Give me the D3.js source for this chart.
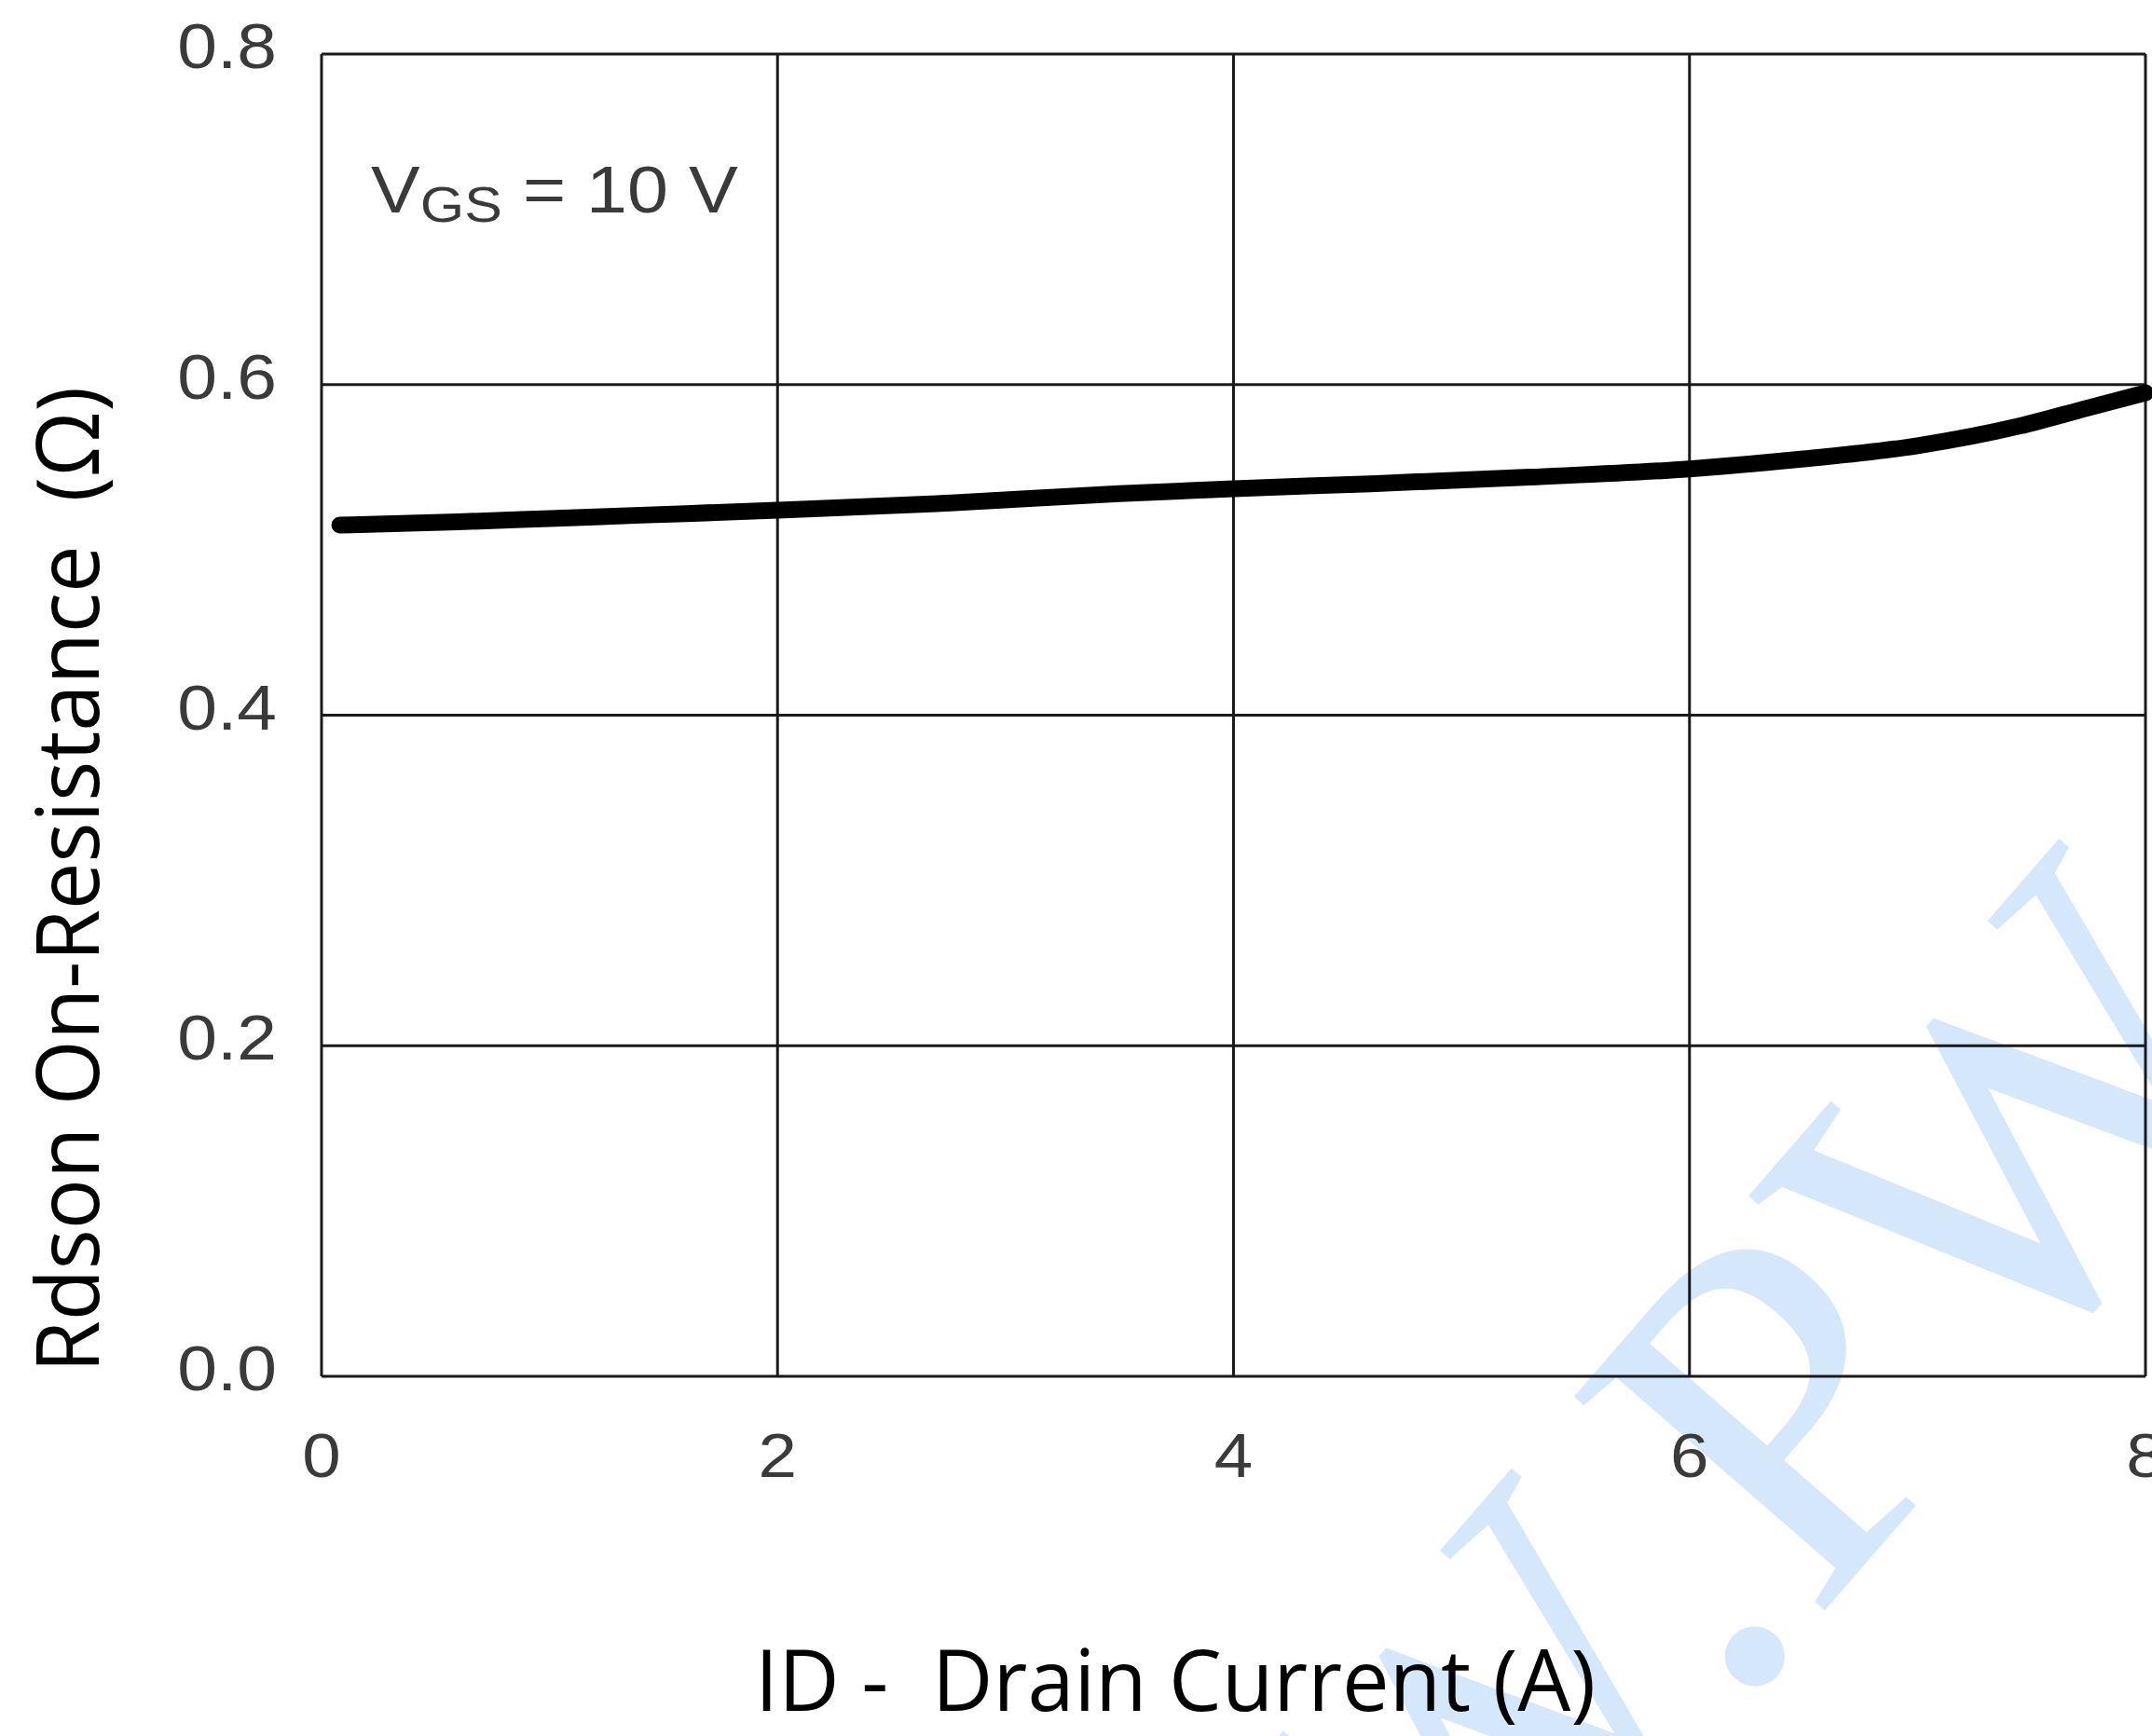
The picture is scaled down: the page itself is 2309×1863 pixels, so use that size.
<!DOCTYPE html>
<html>
<head>
<meta charset="utf-8">
<script src="https://cdn.jsdelivr.net/npm/d3@7"></script>
<style>
  body { margin: 0; background: #fff; }
</style>
</head>
<body>
<script>
// Data
var drainCurrent = [0.08, 0.6, 1.0, 1.4, 2.0, 2.7, 3.5, 4.0, 4.6, 5.3, 6.0, 6.5, 7.0, 7.45, 7.75, 8.0];
var rdsOn = [0.515, 0.517, 0.519, 0.521, 0.524, 0.528, 0.534, 0.537, 0.540, 0.544, 0.549, 0.555, 0.563, 0.575, 0.586, 0.595];
var xTicks = [0, 2, 4, 6, 8];
var yTicks = [0, 0.2, 0.4, 0.6, 0.8];

var svgWidth = 2309;
var svgHeight = 1863;

var margin = { top: 58, right: 7, bottom: 386, left: 345 };
var width = svgWidth - margin.left - margin.right;
var height = svgHeight - margin.top - margin.bottom;

var svg = d3.select("body")
  .append("svg")
  .attr("width", svgWidth)
  .attr("height", svgHeight)
  .style("display", "block");

svg.append("rect")
  .attr("width", svgWidth)
  .attr("height", svgHeight)
  .attr("fill", "#fff");

// Watermark sits behind everything
var wmSize = 540;
svg.append("text")
  .attr("transform", "translate(1978,1705) rotate(-49)")
  .attr("x", -1.194 * wmSize)
  .attr("y", 0)
  .attr("font-family", "Liberation Serif, serif")
  .attr("font-size", wmSize)
  .attr("fill", "#d5e7fa")
  .text("W.PW");

var chartGroup = svg.append("g")
  .attr("transform", `translate(${margin.left}, ${margin.top})`);

var xScale = d3.scaleLinear().domain([0, 8]).range([0, width]);
var yScale = d3.scaleLinear().domain([0, 0.8]).range([height, 0]);

// grid lines (also form the frame)
chartGroup.selectAll(".vgrid")
  .data(xTicks)
  .enter()
  .append("line")
  .attr("x1", d => xScale(d))
  .attr("x2", d => xScale(d))
  .attr("y1", 0)
  .attr("y2", height)
  .attr("stroke", "#1a1a1a")
  .attr("stroke-width", 3);

chartGroup.selectAll(".hgrid")
  .data(yTicks)
  .enter()
  .append("line")
  .attr("x1", 0)
  .attr("x2", width)
  .attr("y1", d => yScale(d))
  .attr("y2", d => yScale(d))
  .attr("stroke", "#1a1a1a")
  .attr("stroke-width", 3);

// tick labels, stretched a little like the scanned original
chartGroup.selectAll(".xlab")
  .data(xTicks)
  .enter()
  .append("text")
  .attr("transform", d => `translate(${xScale(d)}, ${height + 108}) scale(1.13,1)`)
  .attr("text-anchor", "middle")
  .attr("font-family", "Liberation Sans, Arial, sans-serif")
  .attr("font-size", 66)
  .attr("fill", "#3a3a3a")
  .text(d => d);

chartGroup.selectAll(".ylab")
  .data(yTicks)
  .enter()
  .append("text")
  .attr("transform", d => `translate(-48, ${yScale(d) + 15}) scale(1.13,1)`)
  .attr("text-anchor", "end")
  .attr("font-family", "Liberation Sans, Arial, sans-serif")
  .attr("font-size", 68)
  .attr("fill", "#3a3a3a")
  .text(d => d.toFixed(1));

// the curve
var line = d3.line()
  .x((d, i) => xScale(drainCurrent[i]))
  .y(d => yScale(d))
  .curve(d3.curveMonotoneX);

chartGroup.append("path")
  .datum(rdsOn)
  .attr("d", line)
  .attr("fill", "none")
  .attr("stroke", "#000")
  .attr("stroke-width", 18)
  .attr("stroke-linecap", "round");

// condition label
var cond = chartGroup.append("text")
  .attr("transform", "translate(53, 170) scale(1.13,1)")
  .attr("font-family", "Liberation Sans, Arial, sans-serif")
  .attr("font-size", 70)
  .attr("fill", "#3a3a3a")
  .style("white-space", "pre");
cond.append("tspan").text("V");
cond.append("tspan").attr("font-size", 54).attr("dy", 10).text("GS");
cond.append("tspan").attr("dy", -10).text(" = 10 V");

// axis titles
svg.append("text")
  .attr("x", 810)
  .attr("y", 1836)
  .attr("font-family", "Open Sans, Noto Sans, sans-serif")
  .attr("font-size", 91)
  .attr("fill", "#000")
  .attr("textLength", 902)
  .attr("lengthAdjust", "spacingAndGlyphs")
  .style("white-space", "pre")
  .text("ID -  Drain Current (A)");

svg.append("text")
  .attr("transform", "translate(106, 1473) rotate(-90)")
  .attr("x", 0)
  .attr("y", 0)
  .attr("font-family", "Open Sans, Noto Sans, sans-serif")
  .attr("font-size", 94)
  .attr("fill", "#000")
  .attr("textLength", 1058)
  .attr("lengthAdjust", "spacingAndGlyphs")
  .style("white-space", "pre")
  .text("Rdson On-Resistance  (\u03A9)");
</script>
</body>
</html>
